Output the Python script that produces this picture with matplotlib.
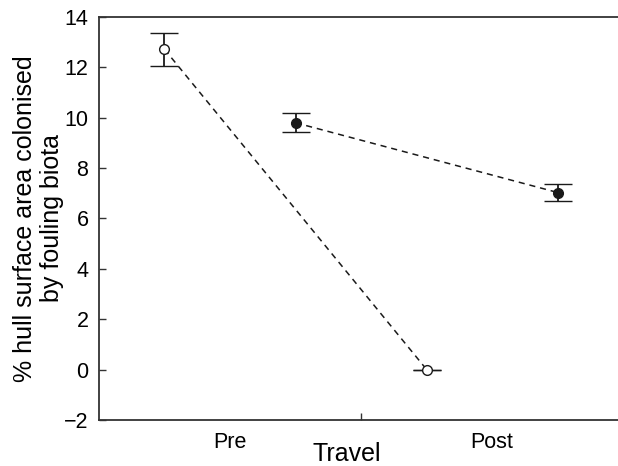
import matplotlib
matplotlib.use("Agg")
import matplotlib.pyplot as plt
import numpy as np

plt.rcParams['font.family'] = ['Liberation Sans', 'DejaVu Sans']

categories = ["Pre", "Post"]
open_means = [12.72, 0.0]
open_err = [0.65, 0.0]
filled_means = [9.8, 7.03]
filled_err = [0.37, 0.33]
yticks = [-2, 0, 2, 4, 6, 8, 10, 12, 14]

fig = plt.figure(figsize=(6.18, 4.66), dpi=100)
ax = fig.add_axes([0.160, 0.099, 0.840, 0.8645])

x = np.arange(len(categories))
off = 0.25
c = '#1a1a1a'
ax.errorbar(x - off, open_means, yerr=open_err, fmt='o', ls='--', color=c,
            mfc='white', mec=c, ms=7, lw=1.1, elinewidth=1.3, capsize=10,
            capthick=1.3, mew=1.0, dashes=(4, 3.2))
ax.errorbar(x + off, filled_means, yerr=filled_err, fmt='o', ls='--', color=c,
            mfc=c, mec=c, ms=7, lw=1.1, elinewidth=1.3, capsize=10,
            capthick=1.3, mew=1.0, dashes=(4, 3.2))

ax.set_xlim(-0.5, 1.48)
ax.set_ylim(-2, 14)
ax.set_yticks(yticks)
ax.set_xticks(x)
ax.set_xticklabels(categories, fontsize=15.5)
ax.set_xticks([0.5], minor=True)
ax.tick_params(axis='x', which='major', length=0, pad=9)
ax.tick_params(axis='x', which='minor', direction='in', length=5, width=1.0, color='#333333')
ax.tick_params(axis='y', direction='in', length=5, width=1.0, color='#333333', labelsize=15.5, pad=7.5)

for s in ['left', 'top', 'bottom']:
    ax.spines[s].set_linewidth(1.3)
    ax.spines[s].set_color('#333333')
ax.spines['right'].set_visible(False)

ax.set_xlabel("Travel", fontsize=18)
ax.xaxis.set_label_coords((347 - 99) / 519, -0.055)
ax.set_ylabel("% hull surface area colonised\nby fouling biota", fontsize=18, linespacing=1.15)
ax.yaxis.set_label_coords(-0.068, 0.5)

fig.savefig("out.png", dpi=100)
